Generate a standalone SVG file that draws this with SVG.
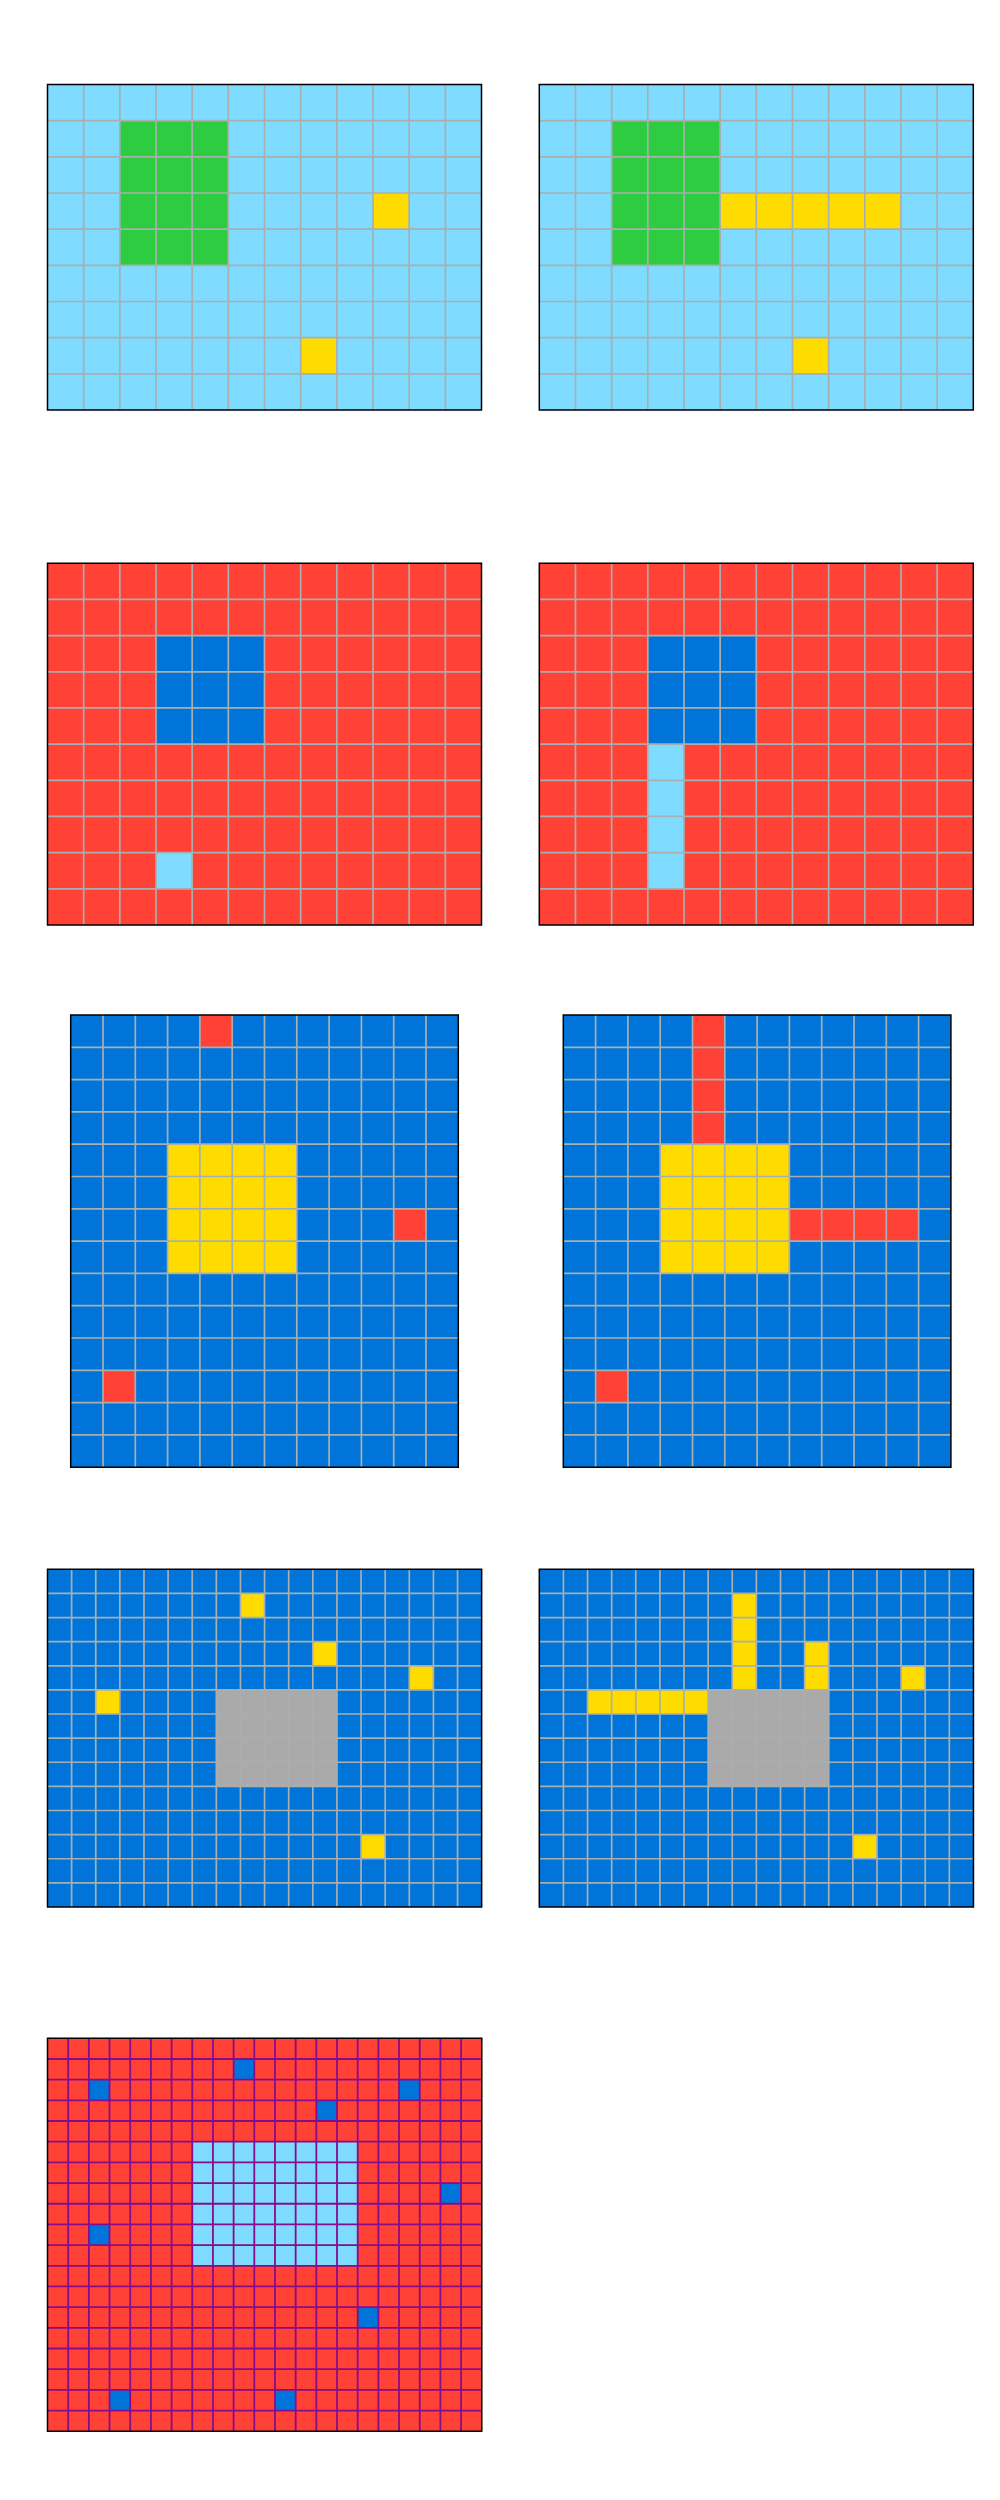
<svg xmlns="http://www.w3.org/2000/svg" width="1000" height="2500" viewBox="0 0 1000 2500">
<style>
.lb{fill:#7FDBFF}.gr{fill:#2ECC40}.ye{fill:#FFDC00}.re{fill:#FF4136}.bl{fill:#0074D9}.gy{fill:#AAAAAA}
.ln{fill:none;stroke:#A9AFAF;stroke-width:1.7}
.lp{fill:none;stroke:#870C8C;stroke-width:1.8}
.gl{vector-effect:non-scaling-stroke}
.bd{fill:none;stroke:#000;stroke-width:1.5;vector-effect:non-scaling-stroke}
</style>
<defs>
<path id="L12x9" class="gl" vector-effect="non-scaling-stroke" d="M1 0V9M2 0V9M3 0V9M4 0V9M5 0V9M6 0V9M7 0V9M8 0V9M9 0V9M10 0V9M11 0V9M0 1H12M0 2H12M0 3H12M0 4H12M0 5H12M0 6H12M0 7H12M0 8H12"/>
<path id="L12x10" class="gl" vector-effect="non-scaling-stroke" d="M1 0V10M2 0V10M3 0V10M4 0V10M5 0V10M6 0V10M7 0V10M8 0V10M9 0V10M10 0V10M11 0V10M0 1H12M0 2H12M0 3H12M0 4H12M0 5H12M0 6H12M0 7H12M0 8H12M0 9H12"/>
<path id="L12x14" class="gl" vector-effect="non-scaling-stroke" d="M1 0V14M2 0V14M3 0V14M4 0V14M5 0V14M6 0V14M7 0V14M8 0V14M9 0V14M10 0V14M11 0V14M0 1H12M0 2H12M0 3H12M0 4H12M0 5H12M0 6H12M0 7H12M0 8H12M0 9H12M0 10H12M0 11H12M0 12H12M0 13H12"/>
<path id="L18x14" class="gl" vector-effect="non-scaling-stroke" d="M1 0V14M2 0V14M3 0V14M4 0V14M5 0V14M6 0V14M7 0V14M8 0V14M9 0V14M10 0V14M11 0V14M12 0V14M13 0V14M14 0V14M15 0V14M16 0V14M17 0V14M0 1H18M0 2H18M0 3H18M0 4H18M0 5H18M0 6H18M0 7H18M0 8H18M0 9H18M0 10H18M0 11H18M0 12H18M0 13H18"/>
<path id="L21x19" class="gl" vector-effect="non-scaling-stroke" d="M1 0V19M2 0V19M3 0V19M4 0V19M5 0V19M6 0V19M7 0V19M8 0V19M9 0V19M10 0V19M11 0V19M12 0V19M13 0V19M14 0V19M15 0V19M16 0V19M17 0V19M18 0V19M19 0V19M20 0V19M0 1H21M0 2H21M0 3H21M0 4H21M0 5H21M0 6H21M0 7H21M0 8H21M0 9H21M0 10H21M0 11H21M0 12H21M0 13H21M0 14H21M0 15H21M0 16H21M0 17H21M0 18H21"/>
</defs>
<rect width="1000" height="2500" fill="#FFFFFF"/>

<g id="grid1" transform="translate(47.5,84.5) scale(36.1667)">
<rect class="lb" width="12" height="9"/>
<rect class="gr" x="2" y="1" width="3" height="4"/>
<rect class="ye" x="9" y="3" width="1" height="1"/>
<rect class="ye" x="7" y="7" width="1" height="1"/>
<use href="#L12x9" class="ln"/>
<rect class="bd" width="12" height="9"/>
</g>

<g id="grid2" transform="translate(539.3,84.5) scale(36.1667)">
<rect class="lb" width="12" height="9"/>
<rect class="gr" x="2" y="1" width="3" height="4"/>
<rect class="ye" x="5" y="3" width="5" height="1"/>
<rect class="ye" x="7" y="7" width="1" height="1"/>
<use href="#L12x9" class="ln"/>
<rect class="bd" width="12" height="9"/>
</g>

<g id="grid3" transform="translate(47.5,563.3) scale(36.1667)">
<rect class="re" width="12" height="10"/>
<rect class="bl" x="3" y="2" width="3" height="3"/>
<rect class="lb" x="3" y="8" width="1" height="1"/>
<use href="#L12x10" class="ln"/>
<rect class="bd" width="12" height="10"/>
</g>

<g id="grid4" transform="translate(539.3,563.3) scale(36.1667)">
<rect class="re" width="12" height="10"/>
<rect class="bl" x="3" y="2" width="3" height="3"/>
<rect class="lb" x="3" y="5" width="1" height="4"/>
<use href="#L12x10" class="ln"/>
<rect class="bd" width="12" height="10"/>
</g>

<g id="grid5" transform="translate(70.7,1015) scale(32.3)">
<rect class="bl" width="12" height="14"/>
<rect class="re" x="4" y="0" width="1" height="1"/>
<rect class="ye" x="3" y="4" width="4" height="4"/>
<rect class="re" x="10" y="6" width="1" height="1"/>
<rect class="re" x="1" y="11" width="1" height="1"/>
<use href="#L12x14" class="ln"/>
<rect class="bd" width="12" height="14"/>
</g>

<g id="grid6" transform="translate(563.3,1015) scale(32.3)">
<rect class="bl" width="12" height="14"/>
<rect class="re" x="4" y="0" width="1" height="4"/>
<rect class="ye" x="3" y="4" width="4" height="4"/>
<rect class="re" x="7" y="6" width="4" height="1"/>
<rect class="re" x="1" y="11" width="1" height="1"/>
<use href="#L12x14" class="ln"/>
<rect class="bd" width="12" height="14"/>
</g>

<g id="grid7" transform="translate(47.5,1569.3) scale(24.12)">
<rect class="bl" width="18" height="14"/>
<rect class="gy" x="7" y="5" width="5" height="4"/>
<rect class="ye" x="8" y="1" width="1" height="1"/>
<rect class="ye" x="11" y="3" width="1" height="1"/>
<rect class="ye" x="15" y="4" width="1" height="1"/>
<rect class="ye" x="2" y="5" width="1" height="1"/>
<rect class="ye" x="13" y="11" width="1" height="1"/>
<use href="#L18x14" class="ln"/>
<rect class="bd" width="18" height="14"/>
</g>

<g id="grid8" transform="translate(539.3,1569.3) scale(24.12)">
<rect class="bl" width="18" height="14"/>
<rect class="gy" x="7" y="5" width="5" height="4"/>
<rect class="ye" x="8" y="1" width="1" height="4"/>
<rect class="ye" x="11" y="3" width="1" height="2"/>
<rect class="ye" x="15" y="4" width="1" height="1"/>
<rect class="ye" x="2" y="5" width="5" height="1"/>
<rect class="ye" x="13" y="11" width="1" height="1"/>
<use href="#L18x14" class="ln"/>
<rect class="bd" width="18" height="14"/>
</g>

<g id="grid9" transform="translate(47.5,2038.3) scale(20.68)">
<rect class="re" width="21" height="19"/>
<rect class="lb" x="7" y="5" width="8" height="6"/>
<rect class="bl" x="9" y="1" width="1" height="1"/>
<rect class="bl" x="2" y="2" width="1" height="1"/>
<rect class="bl" x="17" y="2" width="1" height="1"/>
<rect class="bl" x="13" y="3" width="1" height="1"/>
<rect class="bl" x="19" y="7" width="1" height="1"/>
<rect class="bl" x="2" y="9" width="1" height="1"/>
<rect class="bl" x="15" y="13" width="1" height="1"/>
<rect class="bl" x="3" y="17" width="1" height="1"/>
<rect class="bl" x="11" y="17" width="1" height="1"/>
<use href="#L21x19" class="lp"/>
<rect class="bd" width="21" height="19"/>
</g>
</svg>
